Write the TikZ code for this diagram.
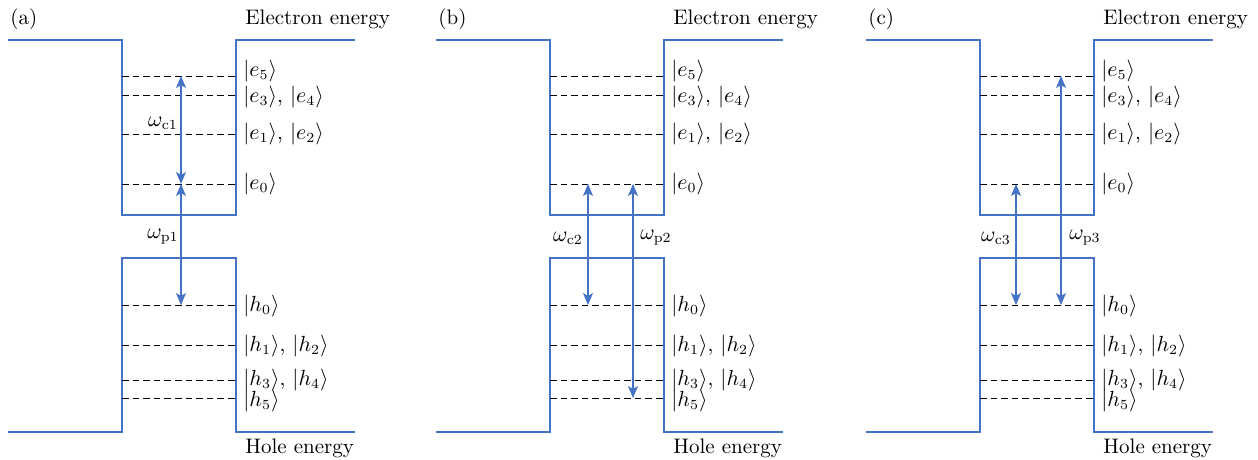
\documentclass[tikz,border=0pt]{standalone}
\usetikzlibrary{arrows.meta}
\definecolor{wellblue}{RGB}{68,114,196}
\tikzset{
  well/.style={draw=wellblue, line width=0.55pt},
  level/.style={draw=black, line width=0.45pt, dash pattern=on 3.3pt off 2pt},
  trans/.style={draw=wellblue, line width=0.55pt, {Stealth[length=6pt,width=5pt,inset=1.5pt]}-{Stealth[length=6pt,width=5pt,inset=1.5pt]}},
  lbl/.style={anchor=west, inner sep=0pt, font=\fontsize{10.5}{12}\selectfont},
  captext/.style={anchor=west, inner sep=0pt, font=\fontsize{10.5}{12}\selectfont},
  om/.style={inner sep=0pt, font=\fontsize{10.5}{12}\selectfont},
}
\newcommand{\qwpanel}[3]{%
\begin{scope}[shift={(#2,0)}, name prefix=#1-]
  \draw[well] (8,40) -- (122,40) -- (122,215) -- (236,215) -- (236,40) -- (355,40);
  \draw[well] (8,432) -- (122,432) -- (122,258) -- (236,258) -- (236,432) -- (355,432);
  \foreach \n/\y in {e5/76,e34/95,e12/134,e0/184,h0/305,h12/345,h34/380,h5/398}{
    \draw[level] (122,\y) coordinate (\n L) -- (236,\y) coordinate (\n R);
  }
  \node[captext] (pl) at (10,19) {(#3)};
  \node[captext] (el) at (245,19) {Electron energy};
  \node[captext] (hl) at (245,448) {Hole energy};
  \node[lbl] (le5) at (243,71) {$|e_5\rangle$};
  \node[lbl] (le34) at (243,97) {$|e_3\rangle$, $|e_4\rangle$};
  \node[lbl] (le12) at (243,134) {$|e_1\rangle$, $|e_2\rangle$};
  \node[lbl] (le0) at (243,184) {$|e_0\rangle$};
  \node[lbl] (lh0) at (243,306) {$|h_0\rangle$};
  \node[lbl] (lh12) at (243,346) {$|h_1\rangle$, $|h_2\rangle$};
  \node[lbl] (lh34) at (243,380) {$|h_3\rangle$, $|h_4\rangle$};
  \node[lbl] (lh5) at (243,401) {$|h_5\rangle$};
\end{scope}}
\begin{document}
\begin{tikzpicture}[x=0.5pt,y=-0.5pt]
\useasboundingbox (0,0) rectangle (1258,460);
\qwpanel{a}{0}{a}
\qwpanel{b}{428}{b}
\qwpanel{c}{858}{c}
% panel (a)
\coordinate (a1) at (181,76);
\coordinate (a2) at (181,184);
\coordinate (a3) at (181,305);
\draw[trans] (a2) -- (a1);
\draw[trans] (a3) -- (a2);
\node[om] (wc1) at (163,123) {$\omega_{\mathrm{c1}}$};
\node[om] (wp1) at (163,237) {$\omega_{\mathrm{p1}}$};
% panel (b)
\coordinate (b1) at (588,184);
\coordinate (b2) at (588,305);
\coordinate (b3) at (633,184);
\coordinate (b4) at (633,398);
\draw[trans] (b1) -- (b2);
\draw[trans] (b3) -- (b4);
\node[om] (wc2) at (568,238) {$\omega_{\mathrm{c2}}$};
\node[om] (wp2) at (656,238) {$\omega_{\mathrm{p2}}$};
% panel (c)
\coordinate (c1) at (1016,184);
\coordinate (c2) at (1016,305);
\coordinate (c3) at (1061,76);
\coordinate (c4) at (1061,305);
\draw[trans] (c1) -- (c2);
\draw[trans] (c3) -- (c4);
\node[om] (wc3) at (996,238) {$\omega_{\mathrm{c3}}$};
\node[om] (wp3) at (1085,238) {$\omega_{\mathrm{p3}}$};
\end{tikzpicture}
\end{document}
